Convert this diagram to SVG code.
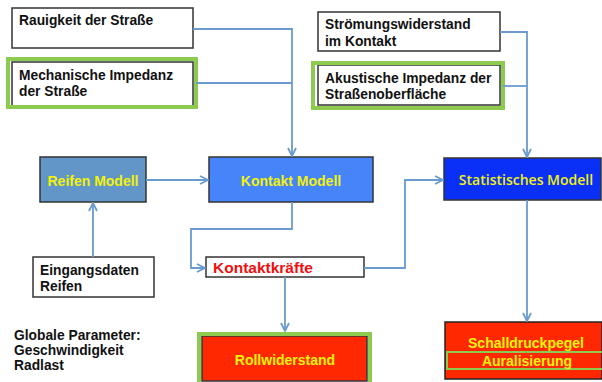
<svg xmlns="http://www.w3.org/2000/svg" width="602" height="382" viewBox="0 0 602 382">
<defs>
<style>
.box{fill:#fff;stroke:#333;stroke-width:1.5}
.grn{fill:none;stroke:#8CCB50;stroke-width:4}
.t{font-family:"Liberation Sans",Arial,sans-serif;font-weight:bold;font-size:13.8px;fill:#111}
.y{font-family:"Liberation Sans",Arial,sans-serif;font-weight:bold;font-size:14px;fill:#F2F20A;text-anchor:middle}
.c{fill:none;stroke:#6A9BCF;stroke-width:1.8}
</style>
<marker id="ar" viewBox="0 0 10 10" refX="9" refY="5" markerWidth="10" markerHeight="10" markerUnits="userSpaceOnUse" orient="auto">
<path d="M1,1 L9,5 L1,9" fill="none" stroke="#6A9BCF" stroke-width="1.8"/>
</marker>
</defs>
<rect width="602" height="382" fill="#fff"/>

<g id="rauigkeit">
<rect class="box" x="12" y="8" width="181" height="40"/>
<text class="t" x="19" y="25">Rauigkeit der Straße</text>
</g>
<g id="mech">
<rect class="box" x="12" y="62" width="181" height="44"/>
<rect class="grn" x="8" y="59" width="188" height="48"/>
<text class="t" x="19" y="80">Mechanische Impedanz</text>
<text class="t" x="19" y="96">der Straße</text>
</g>
<g id="stroem">
<rect class="box" x="318" y="12" width="182" height="39"/>
<text class="t" x="325" y="29">Strömungswiderstand</text>
<text class="t" x="325" y="46">im Kontakt</text>
</g>
<g id="akust">
<rect class="box" x="318" y="65" width="182" height="40"/>
<rect class="grn" x="313" y="63" width="190" height="45"/>
<text class="t" x="325" y="83">Akustische Impedanz der</text>
<text class="t" x="325" y="99">Straßenoberfläche</text>
</g>
<g id="reifen">
<rect x="40" y="157" width="106" height="45" fill="#6296C8" stroke="#333" stroke-width="1.5"/>
<text class="y" x="93" y="186">Reifen Modell</text>
</g>
<g id="kontakt">
<rect x="209" y="157" width="164" height="45" fill="#4684FA" stroke="#333" stroke-width="1.5"/>
<text class="y" x="291" y="186">Kontakt Modell</text>
</g>
<g id="statistisch">
<rect x="444" y="158" width="157" height="42" fill="#0A30F8" stroke="#333" stroke-width="1.5"/>
<text class="y" x="526" y="185" style="font-family:'Open Sans',Lato,sans-serif;font-weight:600;font-size:14px">Statistisches Modell</text>
</g>
<g id="eingang">
<rect class="box" x="33" y="257" width="121" height="40"/>
<text class="t" x="40" y="275">Eingangsdaten</text>
<text class="t" x="40" y="291">Reifen</text>
</g>
<g id="kraefte">
<rect class="box" x="206" y="257" width="158" height="20"/>
<text class="t" x="213" y="272.5" style="fill:#F01010;font-size:15.5px">Kontaktkräfte</text>
</g>
<g id="roll">
<rect x="202" y="336" width="165" height="45" fill="#FF2800" stroke="#333" stroke-width="1.5"/>
<rect class="grn" x="199" y="334" width="171" height="50"/>
<text class="y" x="285" y="365">Rollwiderstand</text>
</g>
<g id="schall">
<rect x="445" y="322" width="157" height="57" fill="#FF2800" stroke="#222" stroke-width="1.5"/>
<rect x="447" y="352" width="156" height="17" fill="none" stroke="#8CCB50" stroke-width="2"/>
<text class="y" x="526" y="348">Schalldruckpegel</text>
<text class="y" x="527" y="365.5">Auralisierung</text>
</g>
<g id="global">
<text class="t" x="14" y="340">Globale Parameter:</text>
<text class="t" x="14" y="355">Geschwindigkeit</text>
<text class="t" x="14" y="370">Radlast</text>
</g>

<g id="connectors">
<polyline class="c" points="193,29 292,29 292,156" marker-end="url(#ar)"/>
<line class="c" x1="196" y1="83" x2="292" y2="83"/>
<polyline class="c" points="500,32 527,32 527,157" marker-end="url(#ar)"/>
<line class="c" x1="503" y1="86" x2="527" y2="86"/>
<line class="c" x1="146" y1="180" x2="208" y2="180" marker-end="url(#ar)"/>
<line class="c" x1="93" y1="257" x2="93" y2="203" marker-end="url(#ar)"/>
<polyline class="c" points="292,202 292,229 191,229 191,268 205,268" marker-end="url(#ar)"/>
<polyline class="c" points="364,268 405,268 405,180 443,180" marker-end="url(#ar)"/>
<line class="c" x1="285" y1="277" x2="285" y2="331" marker-end="url(#ar)"/>
<line class="c" x1="527" y1="200" x2="527" y2="321" marker-end="url(#ar)"/>
</g>
</svg>
